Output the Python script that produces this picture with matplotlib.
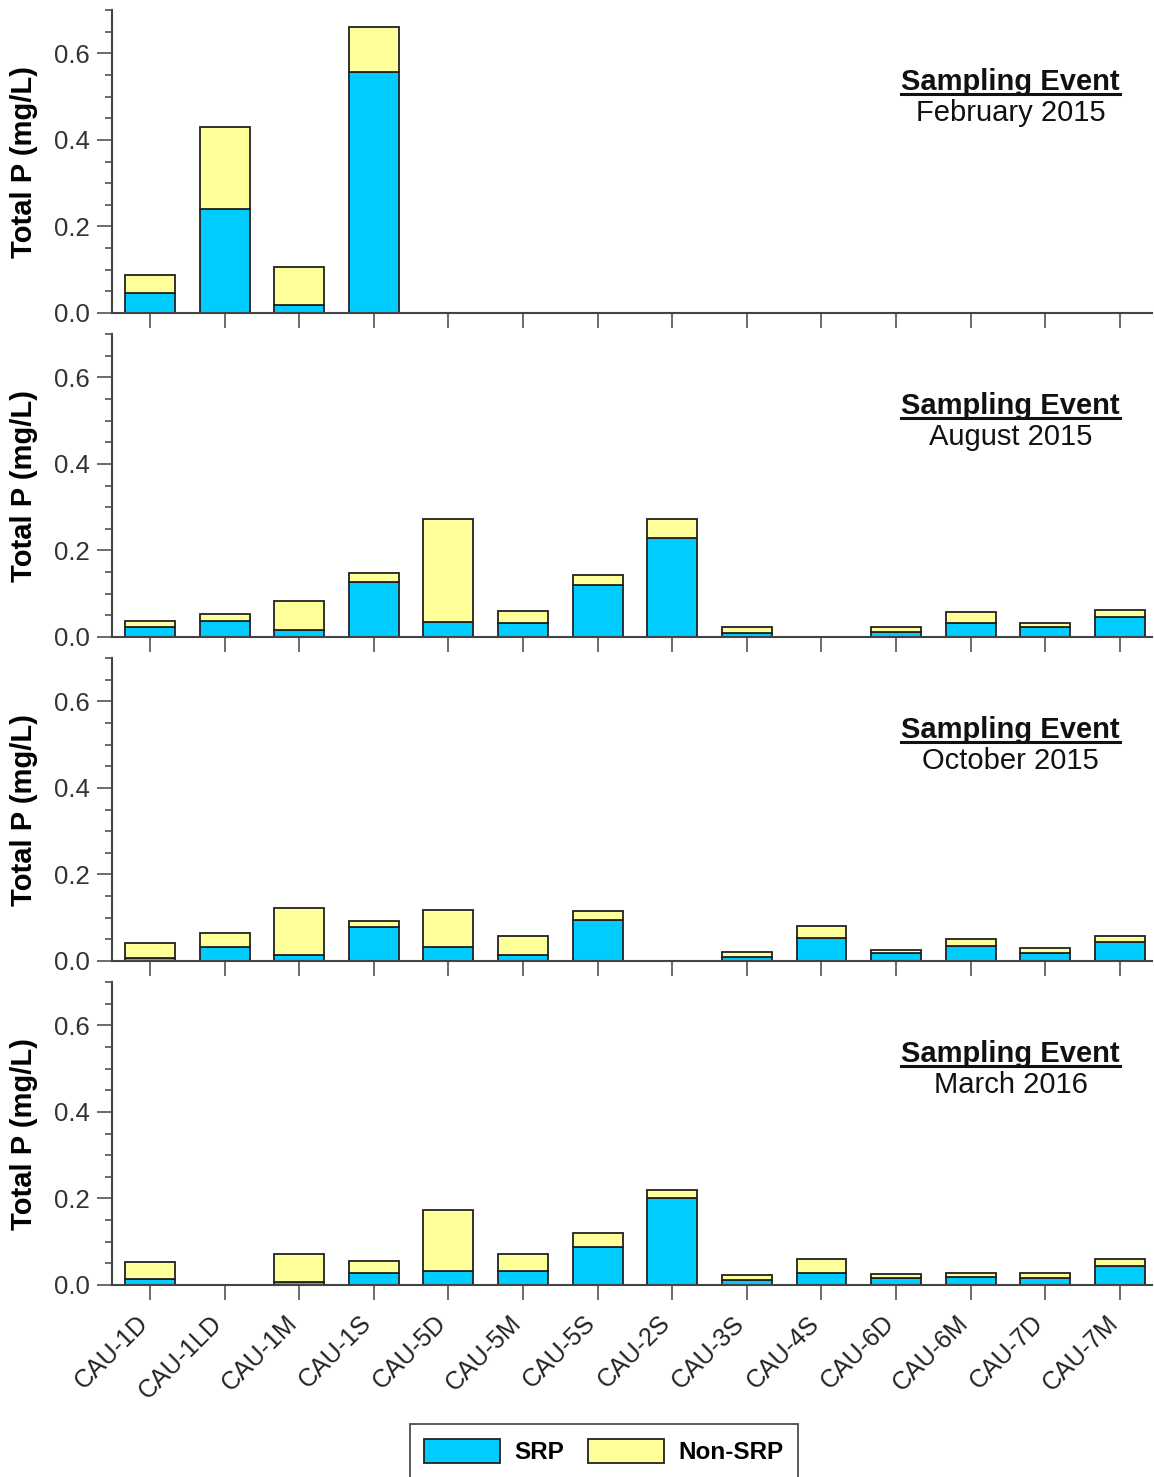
import numpy as np
import matplotlib
matplotlib.use("Agg")
import matplotlib.pyplot as plt
import matplotlib.transforms as mtransforms
from matplotlib.lines import Line2D

plt.rcParams['font.family'] = ['Liberation Sans', 'DejaVu Sans']

# stations on the x axis
wells = ["CAU-1D", "CAU-1LD", "CAU-1M", "CAU-1S", "CAU-5D", "CAU-5M", "CAU-5S",
         "CAU-2S", "CAU-3S", "CAU-4S", "CAU-6D", "CAU-6M", "CAU-7D", "CAU-7M"]

nan = np.nan

# February 2015
feb15_srp = [0.046, 0.240, 0.018, 0.556, nan, nan, nan, nan, nan, nan, nan, nan, nan, nan]
feb15_non = [0.042, 0.190, 0.088, 0.105, nan, nan, nan, nan, nan, nan, nan, nan, nan, nan]

# August 2015
aug15_srp = [0.022, 0.038, 0.017, 0.126, 0.034, 0.032, 0.119, 0.228, 0.010, nan, 0.012, 0.032, 0.022, 0.046]
aug15_non = [0.016, 0.014, 0.066, 0.021, 0.239, 0.027, 0.024, 0.045, 0.012, nan, 0.010, 0.025, 0.011, 0.016]

# October 2015
oct15_srp = [0.008, 0.032, 0.014, 0.078, 0.032, 0.014, 0.094, nan, 0.010, 0.054, 0.018, 0.034, 0.018, 0.045]
oct15_non = [0.034, 0.032, 0.109, 0.015, 0.086, 0.043, 0.021, nan, 0.011, 0.028, 0.007, 0.016, 0.012, 0.013]

# March 2016
mar16_srp = [0.014, nan, 0.007, 0.028, 0.032, 0.032, 0.087, 0.200, 0.012, 0.028, 0.017, 0.018, 0.017, 0.045]
mar16_non = [0.040, nan, 0.065, 0.028, 0.141, 0.040, 0.032, 0.019, 0.011, 0.031, 0.009, 0.010, 0.010, 0.015]

events = ["February 2015", "August 2015", "October 2015", "March 2016"]
srp_all = [feb15_srp, aug15_srp, oct15_srp, mar16_srp]
non_all = [feb15_non, aug15_non, oct15_non, mar16_non]

srp_color = '#00CCFF'
non_color = '#FFFF99'
axis_color = '#444444'

W, H = 1154, 1477
fig = plt.figure(figsize=(W / 100, H / 100), dpi=100)

x = np.arange(len(wells))
axes = []
for i in range(4):
    top = 10 + 324 * i
    bot = 313 + 324 * i
    ax = fig.add_axes([112 / W, 1 - bot / H, (1152 - 112) / W, (bot - top) / H])
    axes.append(ax)

    srp = np.array(srp_all[i])
    non = np.array(non_all[i])
    ok = ~np.isnan(srp)
    ax.bar(x[ok], srp[ok], width=0.67, color=srp_color, edgecolor='#222222', linewidth=1.3, zorder=2)
    ax.bar(x[ok], non[ok], width=0.67, bottom=srp[ok], color=non_color, edgecolor='#222222', linewidth=1.3, zorder=2)

    ax.set_xlim(-0.51, 13.43)
    ax.set_ylim(0, 0.70)
    ax.set_yticks([0.0, 0.2, 0.4, 0.6])
    ax.set_yticklabels(["0.0", "0.2", "0.4", "0.6"])
    ax.set_yticks(np.arange(0.05, 0.71, 0.05), minor=True)
    ax.set_xticks(x)

    for s in ['top', 'right']:
        ax.spines[s].set_visible(False)
    for s in ['left', 'bottom']:
        ax.spines[s].set_color(axis_color)
        ax.spines[s].set_linewidth(1.5)

    ax.tick_params(axis='y', which='major', length=11, width=1.1, color=axis_color,
                   labelsize=18.5, labelcolor='#333333', pad=5)
    ax.tick_params(axis='y', which='minor', length=5, width=1.1, color=axis_color)
    ax.tick_params(axis='x', which='major', length=11, width=1.1, color=axis_color,
                   labelsize=18, labelcolor='#222222', pad=14)

    ax.set_ylabel("Total P (mg/L)", fontsize=21, fontweight='bold')
    ax.yaxis.set_label_coords(-74 / 1040, 0.5)

    if i < 3:
        ax.set_xticklabels([])
    else:
        ax.set_xticklabels(wells, rotation=45, ha='right', rotation_mode='anchor')
        shift = mtransforms.ScaledTranslation(-6 / 100, 0, fig.dpi_scale_trans)
        for lbl in ax.get_xticklabels():
            lbl.set_va('center')
            lbl.set_transform(lbl.get_transform() + shift)

    t1 = ax.text(0.864, 0.762, "Sampling Event", transform=ax.transAxes, ha='center',
                 va='center', fontsize=21, fontweight='bold', color='#111111')
    ax.text(0.864, 0.66, events[i], transform=ax.transAxes, ha='center',
            va='center', fontsize=21, color='#111111')
    t1._underline = True

# underline the "Sampling Event" headings
fig.canvas.draw()
renderer = fig.canvas.get_renderer()
for ax in axes:
    for t in ax.texts:
        if getattr(t, '_underline', False):
            bb = t.get_window_extent(renderer=renderer)
            yline = bb.y0 + 2
            x0, y0 = fig.transFigure.inverted().transform((bb.x0, yline))
            x1, _ = fig.transFigure.inverted().transform((bb.x1, yline))
            fig.add_artist(Line2D([x0, x1], [y0, y0], transform=fig.transFigure,
                                  color='#111111', linewidth=2.2))

handles = [plt.Rectangle((0, 0), 1, 1, facecolor=srp_color, edgecolor='#222222', linewidth=1.3),
           plt.Rectangle((0, 0), 1, 1, facecolor=non_color, edgecolor='#222222', linewidth=1.3)]
leg = fig.legend(handles, ["SRP", "Non-SRP"], loc='upper center',
                 bbox_to_anchor=(604 / W, 1 - 1424 / H), ncol=2, frameon=True,
                 fancybox=False, edgecolor='#222222', prop={'weight': 'bold', 'size': 17.5},
                 handlelength=3.1, handleheight=1.2, handletextpad=0.6, columnspacing=1.0,
                 borderpad=0.6, borderaxespad=0)
leg.get_frame().set_linewidth(1.3)

fig.savefig("out.png", dpi=100)
